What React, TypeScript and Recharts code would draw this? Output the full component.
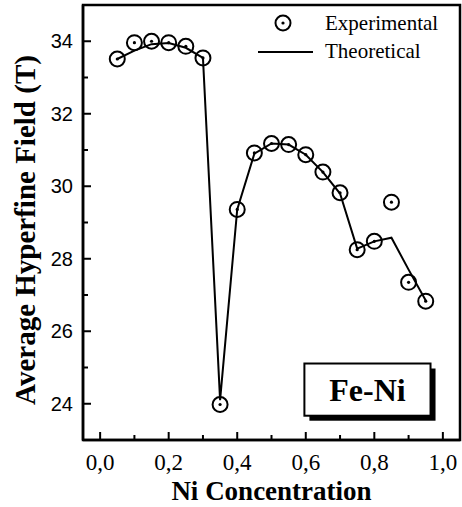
import React from "react";
import {
  ComposedChart,
  XAxis,
  YAxis,
  Line,
  Scatter,
  ReferenceArea,
  Legend,
} from "recharts";

// Ni concentration (x) and average hyperfine field in tesla
const NI_CONC = [
  0.05, 0.1, 0.15, 0.2, 0.25, 0.3, 0.35, 0.4, 0.45, 0.5,
  0.55, 0.6, 0.65, 0.7, 0.75, 0.8, 0.85, 0.9, 0.95,
];
const EXPERIMENTAL = [
  33.51, 33.96, 34.0, 33.96, 33.86, 33.54, 23.98, 29.36, 30.92, 31.18,
  31.15, 30.87, 30.39, 29.82, 28.25, 28.48, 29.56, 27.35, 26.83,
];
const THEORETICAL = [
  33.51, 33.74, 33.92, 33.95, 33.82, 33.54, 24.1, 29.36, 30.9, 31.18,
  31.15, 30.87, 30.39, 29.8, 28.28, 28.48, 28.58, 27.7, 26.85,
];
const X_TICKS = [0, 0.1, 0.2, 0.3, 0.4, 0.5, 0.6, 0.7, 0.8, 0.9, 1.0];
const Y_TICKS = [24, 25, 26, 27, 28, 29, 30, 31, 32, 33, 34];

const expData = NI_CONC.map((x, i) => ({ x, y: EXPERIMENTAL[i] }));
const theoData = NI_CONC.map((x, i) => ({ x, y: THEORETICAL[i] }));

const SERIF = '"Liberation Serif", "Times New Roman", serif';
const SANS = '"Liberation Sans", Arial, sans-serif';

function OpenDot({ cx, cy }: any) {
  return (
    <g>
      <circle cx={cx} cy={cy} r={7.5} fill="none" stroke="#000" strokeWidth={2} />
      <circle cx={cx} cy={cy} r={1.6} fill="#000" />
    </g>
  );
}

// ticks point inward, labels only on the major ones
function XTick({ x, y, payload }: any) {
  const v = payload.value;
  const major = Math.round(v * 10) % 2 === 0;
  return (
    <g>
      <line x1={x} x2={x} y1={y} y2={y - (major ? 8 : 5)} stroke="#000" strokeWidth={2} />
      {major && (
        <text x={x} y={y + 30} textAnchor="middle" style={{ fontFamily: SERIF, fontSize: 23 }} fill="#000">
          {v.toFixed(1).replace(".", ",")}
        </text>
      )}
    </g>
  );
}

function YTick({ x, y, payload }: any) {
  const v = payload.value;
  const major = v % 2 === 0;
  return (
    <g>
      <line x1={x} x2={x + (major ? 8 : 5)} y1={y} y2={y} stroke="#000" strokeWidth={2} />
      {major && (
        <text x={x - 10} y={y + 7} textAnchor="end" style={{ fontFamily: SANS, fontSize: 20 }} fill="#000">
          {v}
        </text>
      )}
    </g>
  );
}

function LegendBox() {
  const txt = { fontFamily: SERIF, fontSize: 21 };
  return (
    <svg width={462} height={70} style={{ display: "block" }}>
      <OpenDot cx={283} cy={23} />
      <text x={325} y={30} style={txt} fill="#000">
        Experimental
      </text>
      <line x1={258} x2={313} y1={52} y2={52} stroke="#000" strokeWidth={2} />
      <text x={325} y={58} style={txt} fill="#000">
        Theoretical
      </text>
    </svg>
  );
}

function AlloyTag(p: any) {
  return (
    <g>
      <rect x={p.x + 5} y={p.y + 5} width={p.width} height={p.height} fill="#000" />
      <rect x={p.x} y={p.y} width={p.width} height={p.height} fill="#fff" stroke="#000" strokeWidth={2} />
      <text
        x={p.x + p.width / 2}
        y={p.y + p.height / 2 + 11}
        textAnchor="middle"
        style={{ fontFamily: SERIF, fontWeight: "bold", fontSize: 32 }}
        fill="#000"
      >
        Fe-Ni
      </text>
    </g>
  );
}

export default function App() {
  return (
    <div style={{ position: "absolute", left: 0, top: 0, background: "#fff" }}>
      <ComposedChart width={462} height={507} margin={{ top: 5, right: 2, left: 0, bottom: 0 }}>
        <XAxis
          type="number"
          dataKey="x"
          domain={[-0.05, 1.05]}
          ticks={X_TICKS}
          interval={0}
          allowDataOverflow
          height={67}
          tickSize={0}
          tickMargin={0}
          tickLine={false}
          tick={<XTick />}
          axisLine={{ stroke: "#000", strokeWidth: 2.5 }}
          label={{
            content: ({ viewBox }: any) => (
              <text
                x={viewBox.x + viewBox.width / 2}
                y={500}
                textAnchor="middle"
                style={{ fontFamily: SERIF, fontWeight: "bold", fontSize: 27 }}
                fill="#000"
              >
                Ni Concentration
              </text>
            ),
          }}
        />
        <YAxis
          type="number"
          domain={[23, 35]}
          ticks={Y_TICKS}
          interval={0}
          allowDataOverflow
          width={83}
          tickSize={0}
          tickMargin={0}
          tickLine={false}
          tick={<YTick />}
          axisLine={{ stroke: "#000", strokeWidth: 2.5 }}
          label={{
            content: () => (
              <text
                transform="translate(35,230) rotate(-90)"
                textAnchor="middle"
                style={{ fontFamily: SERIF, fontWeight: "bold", fontSize: 29 }}
                fill="#000"
              >
                Average Hyperfine Field (T)
              </text>
            ),
          }}
        />
        <ReferenceArea
          x1={-0.05}
          x2={1.05}
          y1={23}
          y2={35}
          fill="none"
          stroke="#000"
          strokeWidth={2.5}
        />
        <ReferenceArea x1={0.596} x2={0.964} y1={23.67} y2={25.11} shape={<AlloyTag />} />
        <Line
          data={theoData}
          dataKey="y"
          type="linear"
          stroke="#000"
          strokeWidth={2}
          dot={false}
          activeDot={false}
          legendType="none"
          isAnimationActive={false}
        />
        <Scatter data={expData} dataKey="y" shape={<OpenDot />} isAnimationActive={false} />
        <Legend
          layout="vertical"
          verticalAlign="middle"
          align="center"
          content={<LegendBox />}
          wrapperStyle={{ position: "absolute", left: 0, top: 0, width: 462, height: 70 }}
        />
      </ComposedChart>
    </div>
  );
}
